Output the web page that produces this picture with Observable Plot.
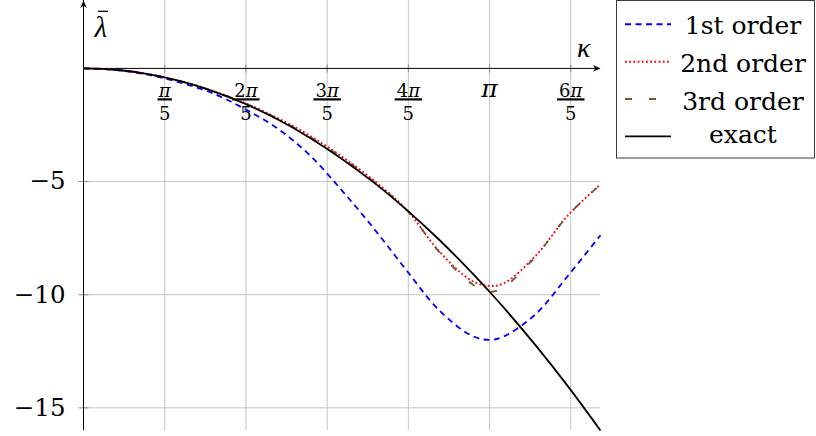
<!DOCTYPE html>
<html><head><meta charset="utf-8">
<script src="https://cdn.jsdelivr.net/npm/d3@7"></script>
<script src="https://cdn.jsdelivr.net/npm/@observablehq/plot@0.6"></script>
<style>
html,body{margin:0;padding:0;background:#fff;}
#wrap{position:relative;width:816px;height:436px;overflow:hidden;}
#legend{position:absolute;left:616px;top:0;}
</style></head><body><div id="wrap"></div>
<script>
// ---- data ----
const kappa       = [0, 0.25, 0.5, 0.75, 1, 1.25, 1.5, 1.75, 2, 2.25, 2.5, 2.75, 3, Math.PI, 3.25, 3.5, 3.75, 4];
const firstOrder  = [0, -0.07, -0.28, -0.63, -1.1, -1.8, -2.65, -3.83, -5.4, -7.1, -8.93, -10.68, -11.8, -12, -11.85, -10.85, -9.15, -7.37];
const secondOrder = [0, -0.06, -0.25, -0.56, -0.99, -1.53, -2.19, -2.97, -3.9, -4.97, -6.25, -8.07, -9.37, -9.61, -9.5, -8.27, -6.48, -5.12];
const thirdOrder  = [0, -0.06, -0.25, -0.56, -1.0, -1.55, -2.22, -3.02, -3.94, -5.02, -6.25, -8.1, -9.5, -9.87, -9.67, -8.3, -6.48, -5.14];
const exact       = [0, -0.06, -0.25, -0.56, -1, -1.56, -2.25, -3.06, -4, -5.06, -6.25, -7.56, -9, -9.87, -10.56, -12.25, -14.06, -16];

const seriesNames  = ["1st order", "2nd order", "3rd order", "exact"];
const seriesValues = [firstOrder, secondOrder, thirdOrder, exact];
const seriesColors = ["#0000ff", "#ff0000", "#76573a", "#000000"];
const seriesDash   = ["6,4.5", "1.8,2.4", "7,17", null];

const xTicks   = [Math.PI/5, 2*Math.PI/5, 3*Math.PI/5, 4*Math.PI/5, Math.PI, 6*Math.PI/5];
const xTickNum = ["π", "2π", "3π", "4π", "π", "6π"];
const xTickDen = ["5", "5", "5", "5", "", "5"];
const yTicks   = [-5, -10, -15];
const xDomain  = [0, 4];
const yDomain  = [-16, 3];
const xLabel = "κ";
const yLabel = "λ";   // drawn with a bar over it

// ---- build ----
const font = "DejaVu Serif";
const rows = seriesNames.map((name, s) => kappa.map((k, i) => ({k, v: seriesValues[s][i], name})));
const tickLabels = xTicks.map((x, i) => ({x, num: xTickNum[i], den: xTickDen[i]}));
const fracs = tickLabels.filter(d => d.den !== "");
const singles = tickLabels.filter(d => d.den === "");

const arrowHead = {draw(ctx) {ctx.moveTo(0, 0); ctx.lineTo(-7.5, -3.3); ctx.lineTo(-5.3, 0); ctx.lineTo(-7.5, 3.3); ctx.closePath();}};
const vTick = {draw(ctx) {ctx.moveTo(0, -4); ctx.lineTo(0, 4);}};
const hTick = {draw(ctx) {ctx.moveTo(-5, 0); ctx.lineTo(5, 0);}};
const bar = r => ({draw(ctx) {ctx.moveTo(-r, 0); ctx.lineTo(r, 0);}});

const lineMarks = rows.map((data, s) => Plot.line(data, {
  x: "k", y: "v", stroke: seriesColors[s], strokeWidth: s === 1 ? 1.9 : 1.8,
  strokeDasharray: seriesDash[s] || undefined, strokeLinecap: "butt", curve: "catmull-rom"
}));

const plot = Plot.plot({
  width: 816, height: 436,
  marginLeft: 83, marginRight: 216, marginTop: 0, marginBottom: 6,
  x: {domain: xDomain, axis: null},
  y: {domain: yDomain, axis: null},
  style: {fontFamily: font, background: "transparent", overflow: "visible"},
  marks: [
    Plot.ruleX(xTicks, {stroke: "#c4c4c4", strokeWidth: 1}),
    Plot.ruleY(yTicks, {stroke: "#c4c4c4", strokeWidth: 1}),
    Plot.dot(xTicks, {x: d => d, y: 0, symbol: vTick, stroke: "#8a8a8a", fill: "none", strokeWidth: 1}),
    Plot.dot(yTicks, {x: 0, y: d => d, symbol: hTick, stroke: "#8a8a8a", fill: "none", strokeWidth: 1}),
    Plot.ruleY([0], {stroke: "#000", strokeWidth: 1}),
    Plot.ruleX([0], {stroke: "#000", strokeWidth: 1}),
    Plot.dot([xDomain[1]], {x: d => d, y: 0, symbol: arrowHead, fill: "#000", stroke: "none"}),
    Plot.dot([yDomain[1]], {x: 0, y: d => d, symbol: arrowHead, rotate: -90, fill: "#000", stroke: "none"}),
    // x tick labels (fractions)
    Plot.text(fracs, {x: "x", y: 0, text: "num", fontSize: 18, lineAnchor: "bottom", dy: 28.6, fill: "#000"}),
    Plot.dot(fracs.filter(d => d.num.length === 1), {x: "x", y: 0, dy: 31, symbol: bar(7.2), stroke: "#000", fill: "none", strokeWidth: 2.2}),
    Plot.dot(fracs.filter(d => d.num.length > 1), {x: "x", y: 0, dy: 31, symbol: bar(13.7), stroke: "#000", fill: "none", strokeWidth: 2.2}),
    Plot.text(fracs, {x: "x", y: 0, text: "den", fontSize: 18, lineAnchor: "bottom", dy: 51.6, fill: "#000"}),
    Plot.text(singles, {x: "x", y: 0, text: "num", fontSize: 25, lineAnchor: "bottom", dy: 28.8, fill: "#000"}),
    // y tick labels
    Plot.text(yTicks, {x: 0, y: d => d, text: d => d3.format("")(d), fontSize: 24.5, textAnchor: "end", lineAnchor: "middle", dx: -18, fill: "#000"}),
    // axis labels
    Plot.text([yLabel], {frameAnchor: "top-left", text: d => d, fontSize: 29, fontFamily: "Liberation Serif", fontStyle: "italic", textAnchor: "start", lineAnchor: "bottom", dx: 11, dy: 36.5, fill: "#000"}),
    Plot.dot([yLabel], {frameAnchor: "top-left", dx: 19.5, dy: 10.8, symbol: bar(5), stroke: "#000", fill: "none", strokeWidth: 1.3}),
    Plot.text([xLabel], {frameAnchor: "top-right", text: d => d, fontSize: 28, fontFamily: "Liberation Serif", fontStyle: "italic", textAnchor: "end", lineAnchor: "bottom", dx: -10, dy: 56.8, fill: "#000"}),
    ...lineMarks
  ]
});
// typeset π as a math-italic glyph inside the tick labels
plot.querySelectorAll("text").forEach(t => {
  if (t.childElementCount === 0 && t.textContent.includes("π")) {
    t.innerHTML = t.textContent.replace(/π/g, '<tspan font-style="italic">π</tspan>');
  }
});
document.getElementById("wrap").appendChild(plot);

// ---- legend (right side) ----
const lg = d3.create("svg").attr("id", "legend").attr("width", 200).attr("height", 160)
  .style("font-family", font);
lg.append("rect").attr("x", 0.5).attr("y", 0.5).attr("width", 198).attr("height", 157.5)
  .attr("fill", "#fff").attr("stroke", "#3a3a3a").attr("stroke-width", 1);
const rowY = [24.3, 61.7, 99, 136.3];
const baseOff = [10, 10, 11, 6.3];
seriesNames.forEach((name, s) => {
  const l = lg.append("line").attr("x1", 9).attr("x2", 55).attr("y1", rowY[s]).attr("y2", rowY[s])
    .attr("stroke", seriesColors[s]).attr("stroke-width", s === 3 ? 1.8 : 1.9);
  if (seriesDash[s]) l.attr("stroke-dasharray", seriesDash[s]);
  lg.append("text").attr("x", 127).attr("y", rowY[s] + baseOff[s]).attr("text-anchor", "middle")
    .attr("font-size", 25).attr("fill", "#000").text(name);
});
document.getElementById("wrap").appendChild(lg.node());
</script></body></html>
